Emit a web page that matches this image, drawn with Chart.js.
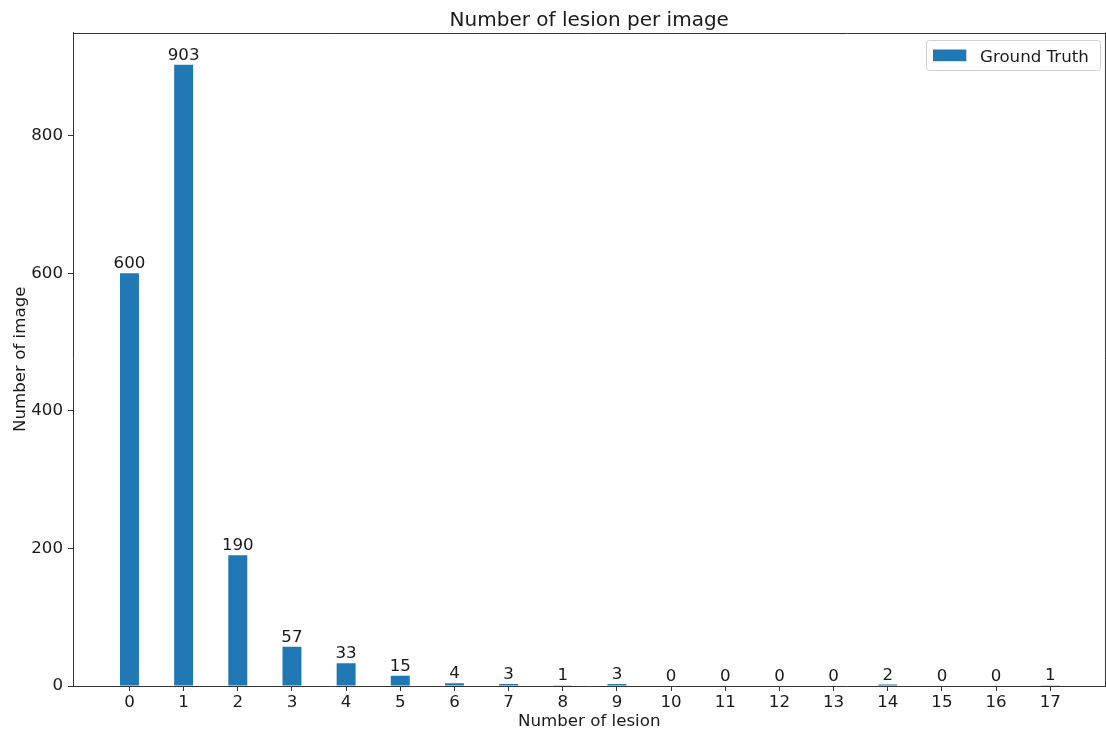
<!DOCTYPE html>
<html>
<head>
<meta charset="utf-8">
<title>Number of lesion per image</title>
<script src="https://cdn.jsdelivr.net/npm/chart.js@4.4.1/dist/chart.umd.min.js"></script>
<style>
  html, body { margin: 0; padding: 0; background: #ffffff; }
  #wrap { width: 1106px; height: 731px; }
</style>
</head>
<body>
<div id="wrap"><canvas id="chart" width="1106" height="731"></canvas></div>
<script>
// Lesion counts per image and how many images have each count
const lesionCounts = [0, 1, 2, 3, 4, 5, 6, 7, 8, 9, 10, 11, 12, 13, 14, 15, 16, 17];
const imageCounts = [600, 903, 190, 57, 33, 15, 4, 3, 1, 3, 0, 0, 0, 0, 2, 0, 0, 1];
const yTickValues = [0, 200, 400, 600, 800];

const seriesLabel = 'Ground Truth';
const chartTitle = 'Number of lesion per image';
const xAxisTitle = 'Number of lesion';
const yAxisTitle = 'Number of image';

const BAR_COLOR = '#1f77b4';
const TEXT_COLOR = '#1a1a1a';
const SPINE_COLOR = '#333333';
const FONT = '"DejaVu Sans", sans-serif';

// Title, axis titles, bar value labels, legend box and top/right frame
const decorations = {
  id: 'decorations',
  afterDraw(chart) {
    const ctx = chart.ctx;
    const area = chart.chartArea;
    const cx = (area.left + area.right) / 2;
    ctx.save();

    // top and right frame lines
    ctx.strokeStyle = SPINE_COLOR;
    ctx.lineWidth = 1;
    ctx.beginPath();
    ctx.moveTo(area.left, Math.round(area.top) + 0.5);
    ctx.lineTo(area.right, Math.round(area.top) + 0.5);
    ctx.moveTo(Math.round(area.right) - 0.5, area.top);
    ctx.lineTo(Math.round(area.right) - 0.5, area.bottom);
    ctx.stroke();

    ctx.fillStyle = TEXT_COLOR;

    // title
    ctx.font = '20px ' + FONT;
    ctx.textAlign = 'center';
    ctx.textBaseline = 'alphabetic';
    ctx.fillText(chartTitle, cx, 26);

    // x axis title
    ctx.font = '16.67px ' + FONT;
    ctx.fillText(xAxisTitle, cx, 726);

    // y axis title
    ctx.save();
    ctx.translate(25, (area.top + area.bottom) / 2);
    ctx.rotate(-Math.PI / 2);
    ctx.fillText(yAxisTitle, 0, 0);
    ctx.restore();

    // value labels above each bar
    const meta = chart.getDatasetMeta(0);
    ctx.font = '16.67px ' + FONT;
    ctx.textAlign = 'center';
    ctx.textBaseline = 'alphabetic';
    meta.data.forEach((bar, i) => {
      ctx.fillText(String(imageCounts[i]), bar.x, bar.y - 5);
    });

    // legend
    const lx = 926.5, ly = 40.5, lw = 174, lh = 30, r = 3;
    ctx.beginPath();
    ctx.moveTo(lx + r, ly);
    ctx.lineTo(lx + lw - r, ly);
    ctx.arcTo(lx + lw, ly, lx + lw, ly + r, r);
    ctx.lineTo(lx + lw, ly + lh - r);
    ctx.arcTo(lx + lw, ly + lh, lx + lw - r, ly + lh, r);
    ctx.lineTo(lx + r, ly + lh);
    ctx.arcTo(lx, ly + lh, lx, ly + lh - r, r);
    ctx.lineTo(lx, ly + r);
    ctx.arcTo(lx, ly, lx + r, ly, r);
    ctx.closePath();
    ctx.fillStyle = 'rgba(255,255,255,0.8)';
    ctx.fill();
    ctx.strokeStyle = '#d0d0d0';
    ctx.lineWidth = 1;
    ctx.stroke();

    ctx.fillStyle = BAR_COLOR;
    ctx.fillRect(933, 49.5, 33.3, 11.7);

    ctx.fillStyle = TEXT_COLOR;
    ctx.font = '16.67px ' + FONT;
    ctx.textAlign = 'left';
    ctx.fillText(seriesLabel, 980, 61.5);

    ctx.restore();
  }
};

const tickFont = { family: FONT, size: 16.67 };

new Chart(document.getElementById('chart'), {
  type: 'bar',
  data: {
    datasets: [{
      label: seriesLabel,
      data: lesionCounts.map((c, i) => ({ x: c, y: imageCounts[i] })),
      backgroundColor: BAR_COLOR,
      borderWidth: 0,
      barPercentage: 0.35,
      categoryPercentage: 1.0
    }]
  },
  options: {
    responsive: false,
    animation: false,
    devicePixelRatio: 1,
    layout: { padding: { left: 0, right: 0.5, top: 32.5, bottom: 0 } },
    plugins: {
      legend: { display: false },
      title: { display: false },
      tooltip: { enabled: false }
    },
    scales: {
      x: {
        type: 'linear',
        min: -1.0425,
        max: 18.02,
        offset: false,
        afterBuildTicks(scale) { scale.ticks = lesionCounts.map(v => ({ value: v })); },
        afterFit(scale) { scale.height = 45; },
        ticks: {
          font: tickFont,
          color: TEXT_COLOR,
          padding: 2,
          maxRotation: 0,
          autoSkip: false,
          callback: v => String(v)
        },
        grid: { offset: false, drawOnChartArea: false, drawTicks: true, tickLength: 5, color: SPINE_COLOR, tickWidth: 1 },
        border: { display: true, color: SPINE_COLOR, width: 1 }
      },
      y: {
        type: 'linear',
        min: 0,
        max: 950,
        afterBuildTicks(scale) { scale.ticks = yTickValues.map(v => ({ value: v })); },
        afterFit(scale) { scale.width = 73; },
        ticks: {
          font: tickFont,
          color: TEXT_COLOR,
          padding: 5,
          callback: v => String(v)
        },
        grid: { offset: false, drawOnChartArea: false, drawTicks: true, tickLength: 5, color: SPINE_COLOR, tickWidth: 1 },
        border: { display: true, color: SPINE_COLOR, width: 1 }
      }
    }
  },
  plugins: [decorations]
});
</script>
</body>
</html>
